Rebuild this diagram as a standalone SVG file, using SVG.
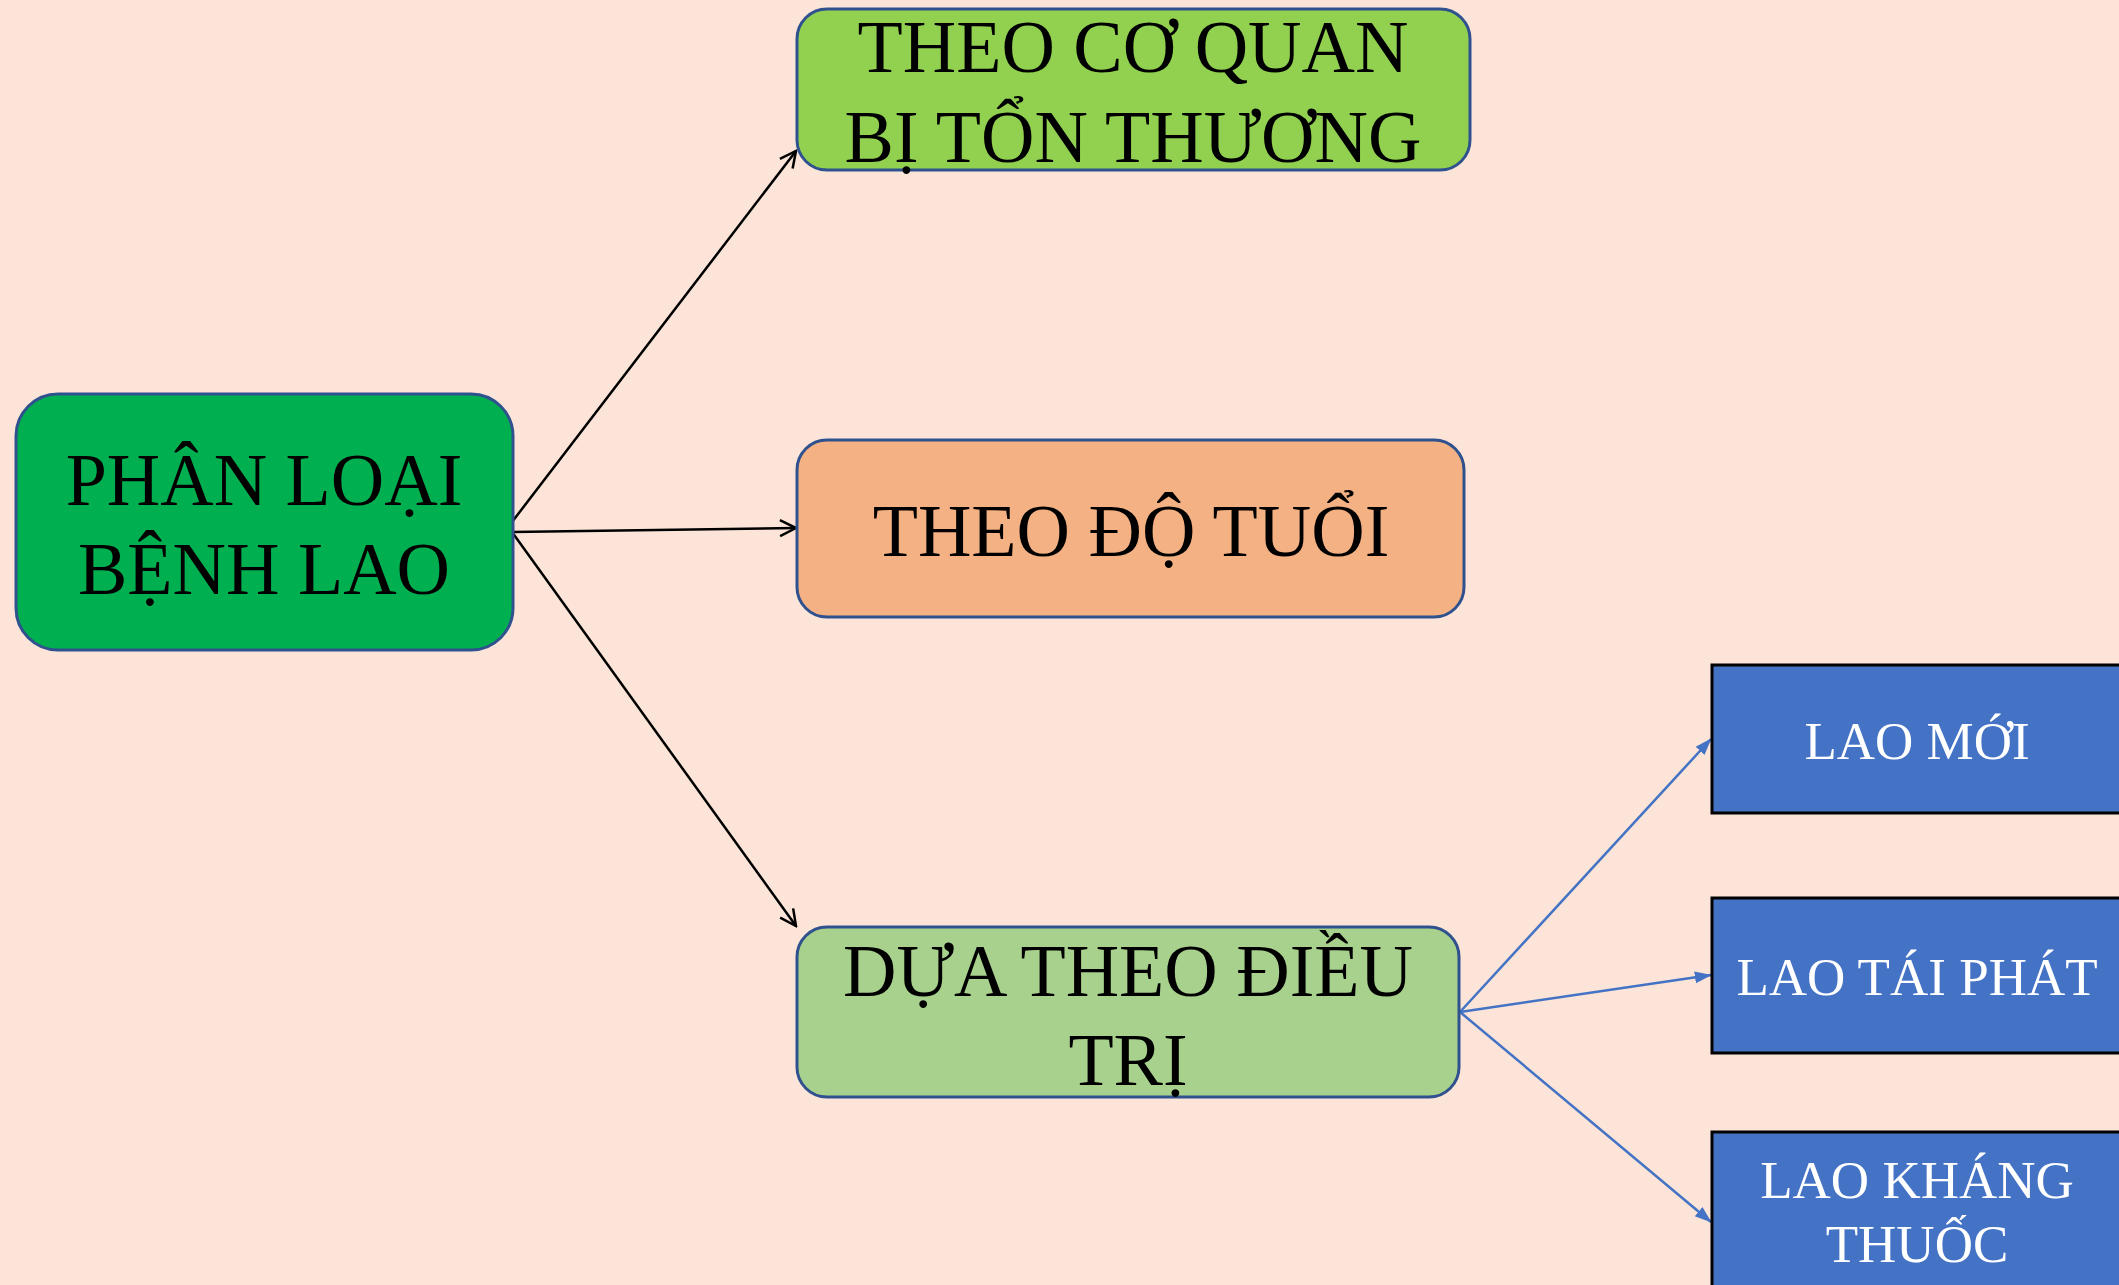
<svg xmlns="http://www.w3.org/2000/svg" width="2119" height="1285" viewBox="0 0 2119 1285">
<style>
.node rect{stroke:#2F528F;stroke-width:3}
.t{font-family:"Liberation Serif","Times New Roman",serif;text-anchor:middle;fill:#000}
.big{font-size:74px}
.sm{font-size:53px;fill:#fff}
.blue rect{fill:#4472C4;stroke:#000;stroke-width:3}
.blk{stroke:#000;stroke-width:2.5;fill:none}
.bl{stroke:#4472C4;stroke-width:2.5;fill:none}
</style>
<defs>
<marker id="open" viewBox="0 0 20 20" refX="18" refY="10" markerWidth="20" markerHeight="20" markerUnits="userSpaceOnUse" orient="auto">
<path d="M2,2 L18,10 L2,18" fill="none" stroke="#000" stroke-width="2.5"/>
</marker>
<marker id="tri" viewBox="0 0 20 20" refX="19" refY="10" markerWidth="17" markerHeight="17" markerUnits="userSpaceOnUse" orient="auto">
<path d="M0,3 L20,10 L0,17 Z" fill="#4472C4"/>
</marker>
</defs>
<rect width="2119" height="1285" fill="#FCE5D8"/>
<g id="connectors">
<line class="blk" x1="512" y1="522" x2="796" y2="151" marker-end="url(#open)"/>
<line class="blk" x1="512" y1="532" x2="796" y2="528" marker-end="url(#open)"/>
<line class="blk" x1="512" y1="532" x2="796" y2="926" marker-end="url(#open)"/>
<line class="bl" x1="1460" y1="1012" x2="1711" y2="739" marker-end="url(#tri)"/>
<line class="bl" x1="1460" y1="1012" x2="1711" y2="975" marker-end="url(#tri)"/>
<line class="bl" x1="1460" y1="1012" x2="1711" y2="1222" marker-end="url(#tri)"/>
</g>
<g id="n-main" class="node">
<rect x="16" y="394" width="497" height="256" rx="42" ry="42" fill="#00B050"/>
<text class="t big" x="264" y="505">PHÂN LOẠI</text>
<text class="t big" x="264" y="594">BỆNH LAO</text>
</g>
<g id="n-coquan" class="node">
<rect x="797" y="9" width="673" height="161" rx="30" ry="30" fill="#92D050"/>
<text class="t big" x="1133" y="72">THEO CƠ QUAN</text>
<text class="t big" x="1133" y="162">BỊ TỔN THƯƠNG</text>
</g>
<g id="n-dotuoi" class="node">
<rect x="797" y="440" width="667" height="177" rx="30" ry="30" fill="#F4B183"/>
<text class="t big" x="1131" y="556">THEO ĐỘ TUỔI</text>
</g>
<g id="n-dieutri" class="node">
<rect x="797" y="927" width="662" height="170" rx="30" ry="30" fill="#A9D18E"/>
<text class="t big" x="1128" y="996">DỰA THEO ĐIỀU</text>
<text class="t big" x="1128" y="1085">TRỊ</text>
</g>
<g id="n-laomoi" class="blue">
<rect x="1712" y="665" width="420" height="148"/>
<text class="t sm" x="1917" y="759">LAO MỚI</text>
</g>
<g id="n-taiphat" class="blue">
<rect x="1712" y="898" width="420" height="155"/>
<text class="t sm" x="1917" y="995">LAO TÁI PHÁT</text>
</g>
<g id="n-khangthuoc" class="blue">
<rect x="1712" y="1132" width="420" height="170"/>
<text class="t sm" x="1917" y="1198">LAO KHÁNG</text>
<text class="t sm" x="1917" y="1262">THUỐC</text>
</g>
</svg>
